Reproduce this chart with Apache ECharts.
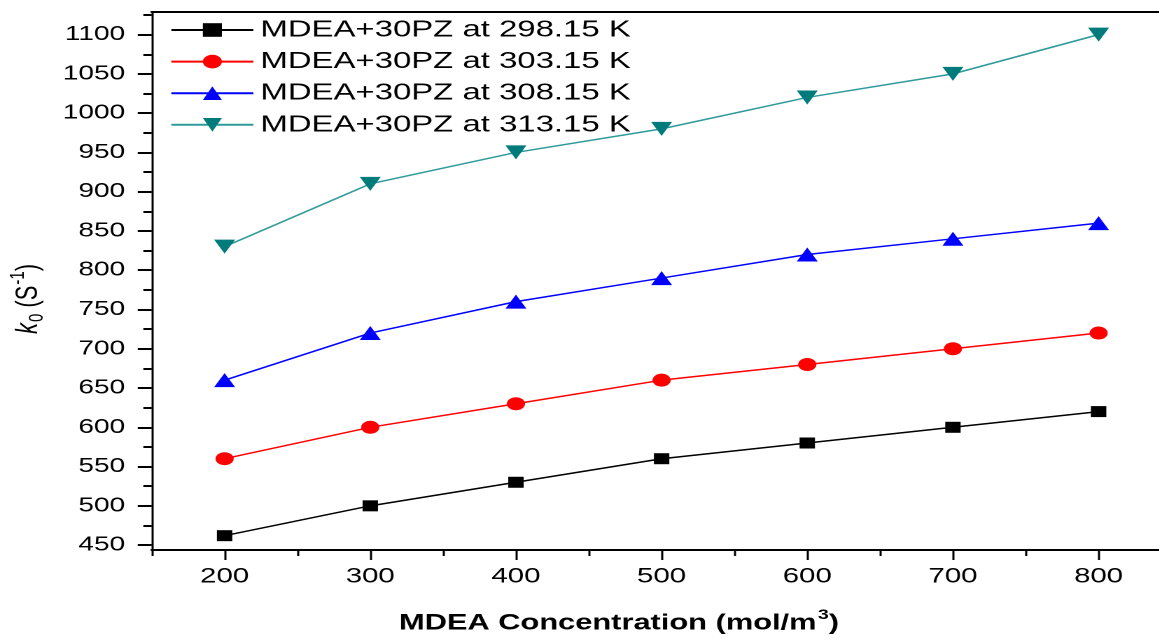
<!DOCTYPE html>
<html>
<head>
<meta charset="utf-8">
<script src="https://cdn.jsdelivr.net/npm/echarts@6/dist/echarts.min.js"></script>
<style>
html, body { margin: 0; padding: 0; background: #fff; overflow: hidden; }
#main { width: 827.857px; height: 641px; transform: scaleX(1.4); transform-origin: 0 0; }
</style>
</head>
<body>
<div id="main"></div>
<script>
// ---- data ----
const concentrations = [200, 300, 400, 500, 600, 700, 800];
const seriesNames = ['MDEA+30PZ at 298.15 K', 'MDEA+30PZ at 303.15 K', 'MDEA+30PZ at 308.15 K', 'MDEA+30PZ at 313.15 K'];
const k298 = [462, 500, 530, 560, 580, 600, 620];
const k303 = [560, 600, 630, 660, 680, 700, 720];
const k308 = [660, 720, 760, 790, 820, 840, 860];
const k313 = [830, 910, 950, 980, 1020, 1050, 1100];
const xMajorTicks = [200, 300, 400, 500, 600, 700, 800];
const xMinorTicks = [150, 250, 350, 450, 550, 650, 750];
const yMajorTicks = [450, 500, 550, 600, 650, 700, 750, 800, 850, 900, 950, 1000, 1050, 1100];
const yMinorTicks = [475, 525, 575, 625, 675, 725, 775, 825, 875, 925, 975, 1025, 1075, 1125];

const FONT = '"Liberation Sans", Arial, sans-serif';
const X_MIN = 150, X_MAX = 841.6, Y_MIN = 443.76, Y_MAX = 1128.8;

function pairs(ys) { return concentrations.map((x, i) => [x, ys[i]]); }
const plain = v => String(v);

const chart = echarts.init(document.getElementById('main'), null, { renderer: 'canvas', devicePixelRatio: 2 });

const mk = (name, ys, color, lineColor, symbol, size, rotate) => ({
  name: name,
  type: 'line',
  data: pairs(ys),
  xAxisIndex: 0,
  yAxisIndex: 0,
  symbol: symbol,
  symbolSize: size,
  symbolRotate: rotate || 0,
  showAllSymbol: true,
  lineStyle: { color: lineColor, width: 1.5 },
  itemStyle: { color: color, borderWidth: 0 },
  emphasis: { disabled: true },
  z: 3
});

const option = {
  animation: false,
  backgroundColor: '#ffffff',
  textStyle: { fontFamily: FONT },
  title: {
    text: '{a|MDEA Concentration (mol/m}{s|3}{a|)}',
    left: 285,
    top: 608,
    padding: 0,
    textStyle: {
      rich: {
        a: { fontFamily: FONT, fontSize: 22, fontWeight: 'bold', color: '#000' },
        s: { fontFamily: FONT, fontSize: 14, fontWeight: 'bold', color: '#000', padding: [0, 0, 17, 1] }
      }
    }
  },
  legend: {
    orient: 'vertical',
    left: 121.4,
    top: 18,
    padding: 0,
    itemWidth: 58.6,
    itemHeight: 17,
    itemGap: 7.6,
    selectedMode: false,
    textStyle: { fontFamily: FONT, fontSize: 23.5, color: '#000' },
    data: seriesNames
  },
  grid: { left: 108.4, right: 0, top: 12, bottom: 91, containLabel: false, outerBoundsMode: 'none' },
  xAxis: [
    {
      type: 'value', position: 'bottom', min: X_MIN, max: X_MAX,
      axisLine: { show: true, onZero: false, lineStyle: { color: '#000', width: 2 } },
      axisTick: { show: true, customValues: xMajorTicks, length: 10, lineStyle: { color: '#000', width: 1.5 } },
      axisLabel: { show: true, customValues: xMajorTicks, formatter: plain, margin: 16, fontSize: 21, color: '#000', fontFamily: FONT },
      splitLine: { show: false }
    },
    {
      type: 'value', position: 'bottom', min: X_MIN, max: X_MAX,
      axisLine: { show: false },
      axisTick: { show: true, customValues: xMinorTicks, length: 6, lineStyle: { color: '#000', width: 1.5 } },
      axisLabel: { show: false },
      splitLine: { show: false }
    },
    {
      type: 'value', position: 'top', min: X_MIN, max: X_MAX,
      axisLine: { show: true, onZero: false, lineStyle: { color: '#000', width: 2 } },
      axisTick: { show: false },
      axisLabel: { show: false },
      splitLine: { show: false }
    }
  ],
  yAxis: [
    {
      type: 'value', position: 'left', min: Y_MIN, max: Y_MAX,
      name: '{k|k}{sub|0}{n| (S}{sup|-1}{n|)}',
      nameLocation: 'middle',
      nameRotate: 90,
      nameGap: 65,
      nameTextStyle: {
        padding: [0, 36, 0, 0],
        rich: {
          k: { fontFamily: FONT, fontSize: 22, fontStyle: 'italic', color: '#000' },
          sub: { fontFamily: FONT, fontSize: 15, color: '#000', padding: [12, 0, 0, 1] },
          n: { fontFamily: FONT, fontSize: 22, color: '#000' },
          sup: { fontFamily: FONT, fontSize: 15, color: '#000', padding: [0, 0, 15, 1] }
        }
      },
      axisLine: { show: true, onZero: false, lineStyle: { color: '#000', width: 1.5 } },
      axisTick: { show: true, customValues: yMajorTicks, length: 10, lineStyle: { color: '#000', width: 2 } },
      axisLabel: { show: true, customValues: yMajorTicks, formatter: plain, margin: 19, fontSize: 20, color: '#000', fontFamily: FONT },
      splitLine: { show: false }
    },
    {
      type: 'value', position: 'left', min: Y_MIN, max: Y_MAX,
      axisLine: { show: false },
      axisTick: { show: true, customValues: yMinorTicks, length: 6, lineStyle: { color: '#000', width: 2 } },
      axisLabel: { show: false },
      splitLine: { show: false }
    }
  ],
  series: [
    mk(seriesNames[0], k298, '#000000', '#000000', 'rect', [11, 11]),
    mk(seriesNames[1], k303, '#ff0000', '#ff0000', 'circle', 13),
    mk(seriesNames[2], k308, '#0000ff', '#0000ff', 'triangle', [15, 14]),
    mk(seriesNames[3], k313, '#007b7b', '#2e9a9a', 'triangle', [15, 14], 180)
  ]
};

chart.setOption(option);
</script>
</body>
</html>
